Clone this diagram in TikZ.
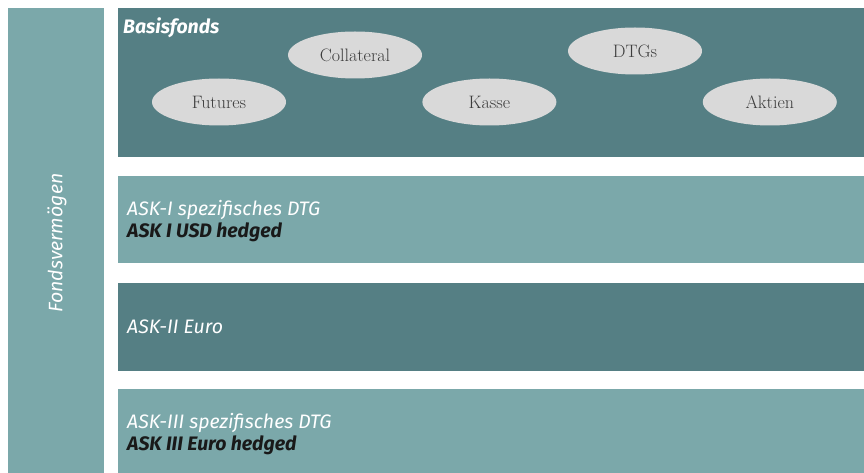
\documentclass[tikz,border=0pt]{standalone}
\usepackage{fontspec}
\newfontfamily\headfont{Fira Sans}
\usetikzlibrary{positioning,shapes.geometric}
\definecolor{tealLight}{RGB}{123,168,170}
\definecolor{tealDark}{RGB}{85,127,132}
\definecolor{pillGray}{RGB}{217,217,217}
\definecolor{pillText}{RGB}{60,60,60}
\tikzset{
  band/.style={anchor=north west, inner sep=0pt, minimum width=746pt},
  head/.style={anchor=north west, align=left, inner sep=0pt, text=white,
    font=\headfont\itshape\fontsize{19.5}{22}\selectfont},
  asset/.style={ellipse, fill=pillGray, minimum width=134pt, minimum height=47pt,
    inner sep=0pt, text=pillText, font=\rmfamily\fontsize{18}{20}\selectfont}
}

\begin{document}
\begin{tikzpicture}[x=1pt,y=-1pt]
                      \useasboundingbox (0,0) rectangle (864,473);
                      % Fondsvermoegen column
                      \node[band, fill=tealLight, minimum width=96pt, minimum height=465pt] (fonds) at (8,8) {};
                      \node[rotate=90, text=white, font=\headfont\itshape\fontsize{19.5}{22}\selectfont] (fonds_t) at (57,243) {Fondsvermögen};
                      % bands
                      \node[band, fill=tealDark, minimum height=149pt] (base) at (118,8) {};
                      \node[band, fill=tealLight, minimum height=87pt] (ask_1) at (118,176) {};
                      \node[band, fill=tealDark, minimum height=88pt] (ask_2) at (118,283) {};
                      \node[band, fill=tealLight, minimum height=84pt] (ask_3) at (118,389) {};
                      % band labels
                      \node[head, font=\headfont\itshape\bfseries\fontsize{19.5}{22}\selectfont] (base_t) at ([xshift=5pt,yshift=-10pt]base.north west) {Basisfonds};
                      \node[head, anchor=west] (ask_1_t) at ([xshift=9pt,yshift=-1pt]ask_1.west) {ASK-I spezifisches DTG\\{\bfseries\color{black!90}ASK I USD hedged}};
                      \node[head, anchor=west] (ask_2_t) at ([xshift=9pt]ask_2.west) {ASK-II Euro};
                      \node[head, anchor=west] (ask_3_t) at ([xshift=9pt,yshift=-3pt]ask_3.west) {ASK-III spezifisches DTG\\{\bfseries\color{black!90}ASK III Euro hedged}};
                      % assets of the base fund
                      \node[asset] (futures) at (219,102) {Futures};
                      \node[asset] (collateral) at (355,55) {Collateral};
                      \node[asset] (kasse) [right=136pt of futures] {Kasse};
                      \node[asset] (dtgs) at (635,51) {DTGs};
                      \node[asset] (aktien) [right=146pt of kasse] {Aktien};
                \end{tikzpicture}
\end{document}
